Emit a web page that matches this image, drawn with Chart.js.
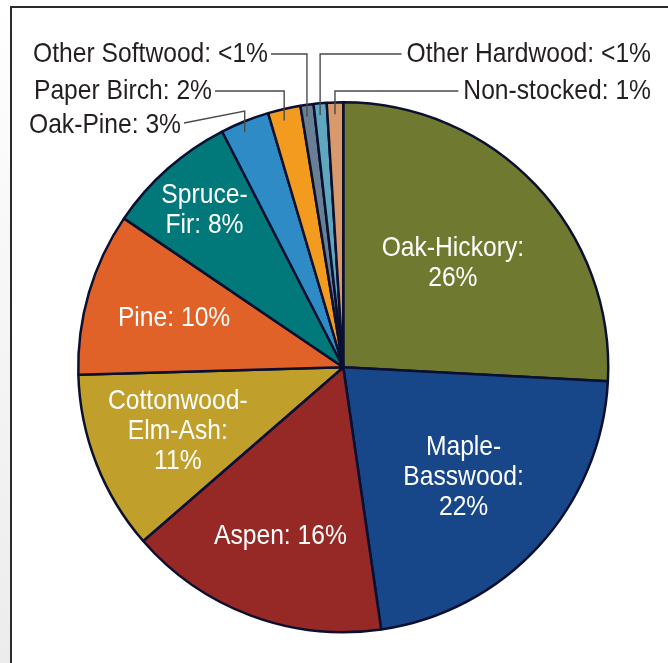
<!DOCTYPE html>
<html>
<head>
<meta charset="utf-8">
<script src="https://cdn.jsdelivr.net/npm/chart.js@4.4.1/dist/chart.umd.min.js"></script>
<style>
  html, body { margin: 0; padding: 0; }
  body {
    width: 668px; height: 663px; position: relative; overflow: hidden;
    background: linear-gradient(to bottom, #ffffff 0%, #f7f7f7 40%, #ececec 100%);
  }
  #panel {
    position: absolute; left: 10px; top: 6px; right: -4px; bottom: -4px;
    background: #ffffff; border-left: 2px solid #2b2b2b; border-top: 2px solid #2b2b2b;
  }
  #wrap { position: absolute; left: 0; top: 0; width: 668px; height: 663px; }
</style>
</head>
<body>
<div id="panel"></div>
<div id="wrap"><canvas id="chart" width="668" height="663"></canvas></div>
<script>
// Forest-type groups, share of forest land (%)
const categories = [
  'Oak-Hickory', 'Maple-Basswood', 'Aspen', 'Cottonwood-Elm-Ash', 'Pine',
  'Spruce-Fir', 'Oak-Pine', 'Paper Birch', 'Other Softwood', 'Other Hardwood', 'Non-stocked'
];
const shares = [26, 22, 16, 11, 10, 8, 3, 2, 0.8, 0.8, 1];
const shareText = ['26%', '22%', '16%', '11%', '10%', '8%', '3%', '2%', '<1%', '<1%', '1%'];

// How each label is broken into lines
const labelLines = [
  ['Oak-Hickory:', '26%'],
  ['Maple-', 'Basswood:', '22%'],
  ['Aspen: 16%'],
  ['Cottonwood-', 'Elm-Ash:', '11%'],
  ['Pine: 10%'],
  ['Spruce-', 'Fir: 8%'],
  ['Oak-Pine: 3%'],
  ['Paper Birch: 2%'],
  ['Other Softwood: <1%'],
  ['Other Hardwood: <1%'],
  ['Non-stocked: 1%']
];

const sliceColors = [
  '#6f7a30', '#174689', '#962826', '#c09f2b', '#e16228',
  '#01797a', '#2e8bc5', '#f39b1e', '#687f94', '#5fa6bf', '#d89a6a'
];

// Label placement: inside labels sit on the slice's mid-angle at a fraction of the radius;
// outside labels sit at a fixed spot with a leader line dropping into the slice.
const labelPlacement = [
  { inside: true, r: 0.57 },
  { inside: true, r: 0.615 },
  { inside: true, r: 0.68 },
  { inside: true, r: 0.67 },
  { inside: true, r: 0.665 },
  { inside: true, r: 0.79 },
  { inside: false, x: 181, y: 125, side: 'left', lineY: 111, startY: 123 },
  { inside: false, x: 212, y: 91, side: 'left' },
  { inside: false, x: 268, y: 54, side: 'left' },
  { inside: false, x: 651, y: 54, side: 'right' },
  { inside: false, x: 651, y: 91, side: 'right' }
];

// Condensed face: regular sans squeezed horizontally
const FONT = '28px "Liberation Sans", Arial, sans-serif';
const SQUEEZE = 0.88;

function textWidth(ctx, t) {
  return ctx.measureText(t).width * SQUEEZE;
}
function drawText(ctx, t, x, y, align) {
  const w = textWidth(ctx, t);
  let left = x;
  if (align === 'center') left = x - w / 2;
  else if (align === 'right') left = x - w;
  ctx.save();
  ctx.translate(left, y);
  ctx.scale(SQUEEZE, 1);
  ctx.textAlign = 'left';
  ctx.fillText(t, 0, 0);
  ctx.restore();
}

const sliceLabels = {
  id: 'sliceLabels',
  afterDatasetsDraw(chart) {
    const ctx = chart.ctx;
    const arcs = chart.getDatasetMeta(0).data;
    ctx.save();
    ctx.font = FONT;
    ctx.textBaseline = 'middle';
    arcs.forEach((arc, i) => {
      const p = labelPlacement[i];
      const { x: cx, y: cy, startAngle, endAngle, outerRadius } = arc.getProps(
        ['x', 'y', 'startAngle', 'endAngle', 'outerRadius'], true);
      const mid = (startAngle + endAngle) / 2;
      const lines = labelLines[i];
      if (p.inside) {
        const lx = cx + Math.cos(mid) * outerRadius * p.r;
        const ly = cy + Math.sin(mid) * outerRadius * p.r;
        const lh = 30;
        ctx.fillStyle = '#ffffff';
        lines.forEach((t, k) => {
          drawText(ctx, t, lx, ly + (k - (lines.length - 1) / 2) * lh, 'center');
        });
      } else {
        const text = lines[0];
        const w = textWidth(ctx, text);
        ctx.fillStyle = '#231f20';
        drawText(ctx, text, p.x, p.y, 'right');
        // leader line from the text to the slice
        const ex = cx + Math.cos(mid) * outerRadius;
        const endY = cy + Math.sin(mid) * outerRadius * 0.955;
        const elbowY = p.lineY !== undefined ? p.lineY : p.y;
        const startX = p.side === 'left' ? p.x + 3 : p.x - w - 5;
        const startY = p.startY !== undefined ? p.startY : p.y;
        ctx.strokeStyle = '#4a4a4a';
        ctx.lineWidth = 1.4;
        ctx.beginPath();
        ctx.moveTo(startX, startY);
        ctx.lineTo(ex, elbowY);
        ctx.lineTo(ex, endY);
        ctx.stroke();
      }
    });
    ctx.restore();
  }
};

new Chart(document.getElementById('chart'), {
  type: 'pie',
  data: {
    labels: categories,
    datasets: [{
      data: shares,
      backgroundColor: sliceColors,
      borderColor: '#0b1030',
      borderWidth: 2.5
    }]
  },
  options: {
    responsive: false,
    animation: false,
    layout: { padding: { left: 77, top: 101, right: 58.5, bottom: 29.5 } },
    plugins: {
      legend: { display: false },
      tooltip: { enabled: false }
    }
  },
  plugins: [sliceLabels]
});
</script>
</body>
</html>
